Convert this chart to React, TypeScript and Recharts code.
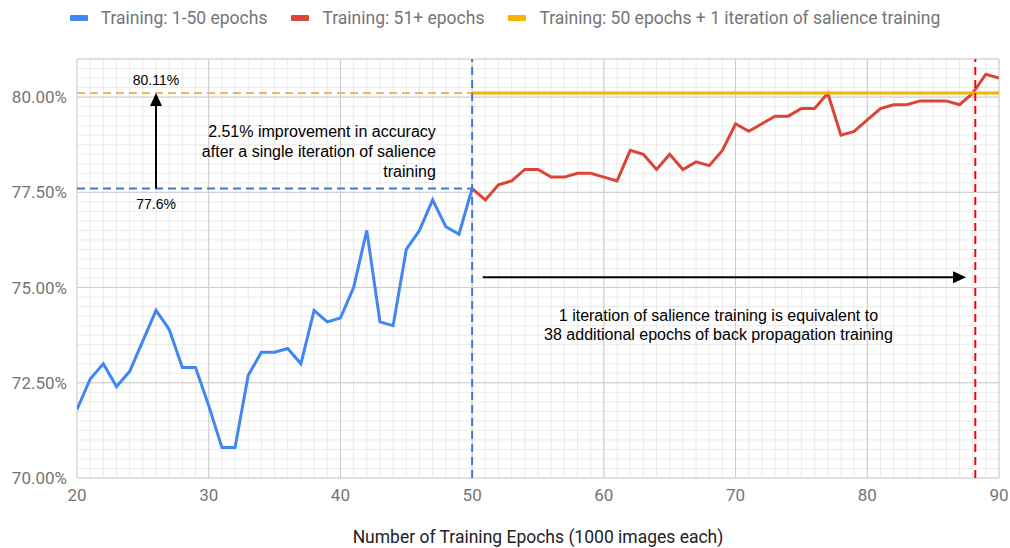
import React from "react";
import {
  LineChart,
  Line,
  XAxis,
  YAxis,
  CartesianGrid,
  Legend,
  ReferenceLine,
  ReferenceDot,
  Label,
} from "recharts";

// accuracy (%) per epoch
const blueEpochs = [20, 21, 22, 23, 24, 25, 26, 27, 28, 29, 30, 31, 32, 33, 34, 35, 36, 37, 38, 39, 40, 41, 42, 43, 44, 45, 46, 47, 48, 49, 50];
const blueValues = [71.8, 72.6, 73.0, 72.4, 72.8, 73.6, 74.4, 73.9, 72.9, 72.9, 71.9, 70.8, 70.8, 72.7, 73.3, 73.3, 73.4, 73.0, 74.4, 74.1, 74.2, 75.0, 76.5, 74.1, 74.0, 76.0, 76.5, 77.3, 76.6, 76.4, 77.6];

const redEpochs = [50, 51, 52, 53, 54, 55, 56, 57, 58, 59, 60, 61, 62, 63, 64, 65, 66, 67, 68, 69, 70, 71, 72, 73, 74, 75, 76, 77, 78, 79, 80, 81, 82, 83, 84, 85, 86, 87, 88, 89, 90];
const redValues = [77.6, 77.3, 77.7, 77.8, 78.1, 78.1, 77.9, 77.9, 78.0, 78.0, 77.9, 77.8, 78.6, 78.5, 78.1, 78.5, 78.1, 78.3, 78.2, 78.6, 79.3, 79.1, 79.3, 79.5, 79.5, 79.7, 79.7, 80.1, 79.0, 79.1, 79.4, 79.7, 79.8, 79.8, 79.9, 79.9, 79.9, 79.8, 80.1, 80.6, 80.5];

const orangeEpochs = [50, 90];
const orangeValues = [80.11, 80.11];

const seriesNames = [
  "Training: 1-50 epochs",
  "Training: 51+ epochs",
  "Training: 50 epochs + 1 iteration of salience training",
];

const xTicks = [20, 30, 40, 50, 60, 70, 80, 90];
const yTicks = [70, 72.5, 75, 77.5, 80];
const xDomain = [20, 90];
const yDomain = [70, 81];
// minor grid: every epoch, every 0.25%
const minorX = Array.from({ length: 71 }, (_, i) => 20 + i);
const minorY = Array.from({ length: 45 }, (_, i) => 70 + i * 0.25);

const baseAcc = 77.6;
const salienceAcc = 80.11;
const equivEpoch = 88.2;

const blueData = blueEpochs.map((e, i) => ({ epoch: e, acc: blueValues[i] }));
const redData = redEpochs.map((e, i) => ({ epoch: e, acc: redValues[i] }));
const orangeData = orangeEpochs.map((e, i) => ({ epoch: e, acc: orangeValues[i] }));

const TICK = { fill: "#757575", fontSize: 17, fontFamily: "Roboto" };
const NOTE_FONT = "'Liberation Sans', Arial, sans-serif";

function minorH({ yAxis, offset }: any) {
  if (yAxis && typeof yAxis.scale === "function") return minorY.map((v) => yAxis.scale(v));
  return minorY.map((v) => offset.top + ((yDomain[1] - v) / (yDomain[1] - yDomain[0])) * offset.height);
}

function minorV({ xAxis, offset }: any) {
  if (xAxis && typeof xAxis.scale === "function") return minorX.map((v) => xAxis.scale(v));
  return minorX.map((v) => offset.left + ((v - xDomain[0]) / (xDomain[1] - xDomain[0])) * offset.width);
}

function LegendContent({ payload }: any) {
  const items = [...(payload || [])].sort(
    (a: any, b: any) => seriesNames.indexOf(a.value) - seriesNames.indexOf(b.value)
  );
  return (
    <div
      style={{
        display: "flex",
        justifyContent: "center",
        alignItems: "center",
        gap: 24,
        height: 24,
        fontFamily: "Roboto",
        fontSize: 17.5,
        color: "#757575",
      }}
    >
      {items.map((p: any) => (
        <span key={p.value} style={{ display: "flex", alignItems: "center" }}>
          <span style={{ width: 18, height: 6, background: p.color, marginRight: 13, borderRadius: 1 }} />
          {p.value}
        </span>
      ))}
    </div>
  );
}

function Arrow(props: any) {
  const { x1, y1, x2, y2 } = props;
  const ang = Math.atan2(y2 - y1, x2 - x1);
  const len = 13;
  const half = 6;
  const bx = x2 - len * Math.cos(ang);
  const by = y2 - len * Math.sin(ang);
  const px = -Math.sin(ang) * half;
  const py = Math.cos(ang) * half;
  return (
    <g>
      <line x1={x1} y1={y1} x2={bx} y2={by} stroke="#000" strokeWidth={2} />
      <polygon points={`${x2},${y2} ${bx + px},${by + py} ${bx - px},${by - py}`} fill="#000" />
    </g>
  );
}

const note = (lines: string[], anchor: string, size: number, dy = 0, lineH = 20) =>
  function Note(props: any) {
    const { cx, cy } = props;
    return (
      <text x={cx} y={cy + dy} textAnchor={anchor as any} fontSize={size} fontFamily={NOTE_FONT} fill="#000">
        {lines.map((l, i) => (
          <tspan key={i} x={cx} dy={i === 0 ? 0 : lineH}>
            {l}
          </tspan>
        ))}
      </text>
    );
  };

export default function App() {
  return (
    <div style={{ position: "absolute", left: 0, top: 0, background: "#fff" }}>
      <LineChart width={1010} height={548} margin={{ top: 35, right: 11, left: 7, bottom: 0 }}>
        <CartesianGrid
          stroke="#ebebeb"
          horizontalCoordinatesGenerator={minorH}
          verticalCoordinatesGenerator={minorV}
        />
        <CartesianGrid stroke="#cccccc" />
        <XAxis
          dataKey="epoch"
          type="number"
          domain={xDomain}
          ticks={xTicks}
          allowDataOverflow
          axisLine={false}
          tickLine={false}
          tickSize={0}
          tickMargin={11}
          height={70}
          tick={TICK}
        >
          <Label
            value="Number of Training Epochs (1000 images each)"
            position="insideBottom"
            offset={5}
            style={{ fill: "#222", fontSize: 17.5, fontFamily: "Roboto" }}
          />
        </XAxis>
        <YAxis
          type="number"
          domain={yDomain}
          ticks={yTicks}
          allowDataOverflow
          axisLine={false}
          tickLine={false}
          tickSize={0}
          tickMargin={10}
          width={70}
          tick={TICK}
          tickFormatter={(v: number) => v.toFixed(2) + "%"}
        />
        <Legend verticalAlign="top" content={<LegendContent />} wrapperStyle={{ top: 6, left: 0, width: 1010 }} />

        <ReferenceLine
          segment={[{ x: 20, y: salienceAcc }, { x: 50, y: salienceAcc }]}
          stroke="#f6b26b"
          strokeWidth={2}
          strokeDasharray="8 5"
        />
        <ReferenceLine
          segment={[{ x: 20, y: baseAcc }, { x: 50, y: baseAcc }]}
          stroke="#3c78d8"
          strokeWidth={2}
          strokeDasharray="8 5"
        />

        <Line
          data={blueData}
          dataKey="acc"
          name={seriesNames[0]}
          stroke="#4285f4"
          strokeWidth={3}
          dot={false}
          isAnimationActive={false}
        />
        <Line
          data={redData}
          dataKey="acc"
          name={seriesNames[1]}
          stroke="#db4437"
          strokeWidth={3}
          dot={false}
          isAnimationActive={false}
        />
        <Line
          data={orangeData}
          dataKey="acc"
          name={seriesNames[2]}
          stroke="#f4b400"
          strokeWidth={3}
          dot={false}
          isAnimationActive={false}
        />

        <ReferenceLine x={50} stroke="#3c78d8" strokeWidth={2} strokeDasharray="8 5" />
        <ReferenceLine x={equivEpoch} stroke="#ff0000" strokeWidth={2} strokeDasharray="8 5" />

        <ReferenceLine segment={[{ x: 26, y: baseAcc }, { x: 26, y: salienceAcc }]} shape={<Arrow />} />
        <ReferenceLine segment={[{ x: 50.8, y: 75.27 }, { x: 87.5, y: 75.27 }]} shape={<Arrow />} />

        <ReferenceDot x={26} y={salienceAcc} r={0} shape={note(["80.11%"], "middle", 14, -8)} />
        <ReferenceDot x={26} y={baseAcc} r={0} shape={note(["77.6%"], "middle", 14, 20)} />
        <ReferenceDot
          x={47.24}
          y={78.94}
          r={0}
          shape={note(
            ["2.51% improvement in accuracy", "after a single iteration of salience", "training"],
            "end",
            16
          )}
        />
        <ReferenceDot
          x={68.7}
          y={74.12}
          r={0}
          shape={note(
            ["1 iteration of salience training is equivalent to", "38 additional epochs of back propagation training"],
            "middle",
            16,
            0,
            19
          )}
        />
      </LineChart>
    </div>
  );
}
